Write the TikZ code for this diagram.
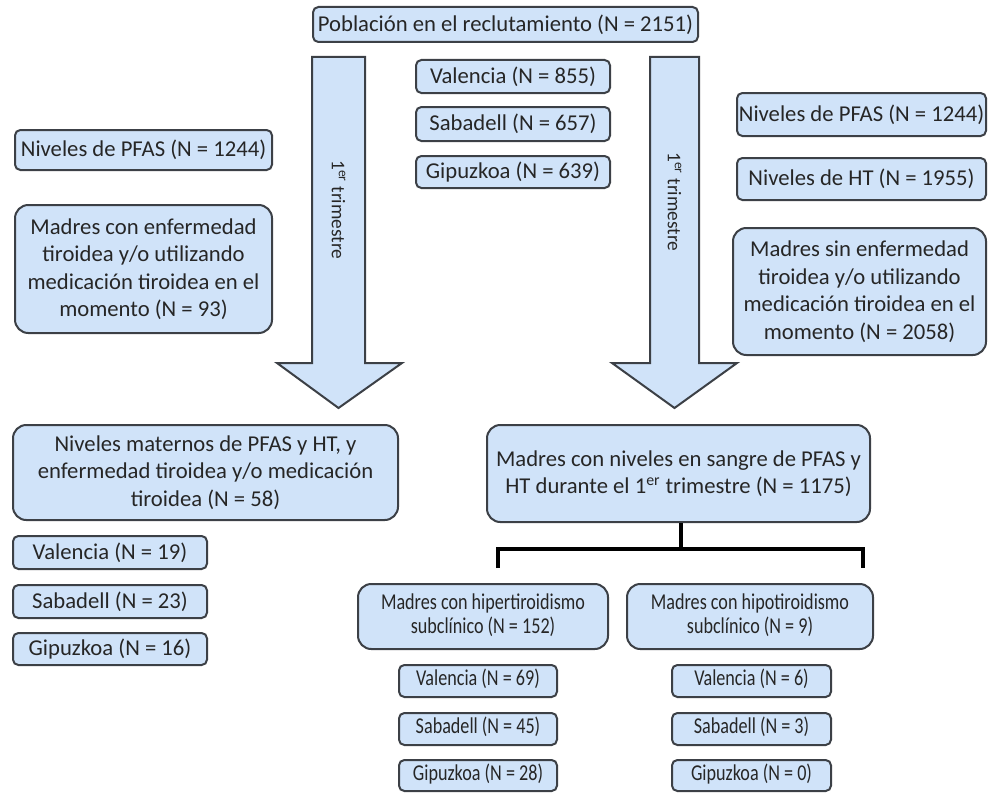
\documentclass[tikz,border=0pt]{standalone}
\usepackage{graphicx}
\usepackage{fontspec}
\setmainfont{Carlito}
\definecolor{boxfill}{RGB}{208,227,249}
\definecolor{boxline}{RGB}{60,64,70}
\newcommand{\nar}[1]{\scalebox{0.8}[1]{\renewcommand{\arraystretch}{0.88}\begin{tabular}{@{}c@{}}#1\end{tabular}}}
\tikzset{
  x=0.75pt, y=-0.75pt,
  base/.style={draw=boxline, fill=boxfill, line width=1.5pt, inner sep=0pt, align=center,
    font=\fontsize{17}{20.6}\selectfont, text=black!85},
  sbox/.style={base, rounded corners=4pt},
  bbox/.style={base, rounded corners=10pt},
  blockarrow/.style={draw=boxline, fill=boxfill, line width=1.5pt, line join=miter},
  arrowtext/.style={rotate=-90, anchor=west, inner sep=0pt, font=\fontsize{14.5}{16}\selectfont, text=black!85},
  bracket/.style={draw=black, line width=3pt},
}
\newcommand{\bx}[7]{\node[#1, minimum width={(#5-#3)*0.75pt}, minimum height={(#6-#4)*0.75pt}] (#2) at ({(#3+#5)/2},{(#4+#6)/2}) {#7};}
\begin{document}
\begin{tikzpicture}
\useasboundingbox (0,0) rectangle (988,792);
% block arrows
\path[blockarrow] (312,57) -- (365,57) -- (365,363) -- (402,363) -- (338.5,408) -- (277,363) -- (312,363) -- cycle;
\path[blockarrow] (650,57) -- (699,57) -- (699,363) -- (737,363) -- (674.5,408) -- (612,363) -- (650,363) -- cycle;
\node[arrowtext] (tl) at (338.5,160) {1\textsuperscript{er} trimestre};
\node[arrowtext] (tr) at (674.5,152) {1\textsuperscript{er} trimestre};
% top
\bx{sbox}{top}{313}{7}{698}{42}{Población en el reclutamiento (N = 2151)}
\bx{sbox}{val}{416}{60}{610}{93}{Valencia (N = 855)}
\bx{sbox}{sab}{416}{107}{610}{141}{Sabadell (N = 657)}
\bx{sbox}{gip}{416}{156}{610}{188}{Gipuzkoa (N = 639)}
% left exclusions
\bx{sbox}{lpfas}{15}{130}{272}{170}{Niveles de PFAS (N = 1244)}
\bx{bbox}{lmad}{15}{205}{272}{333}{Madres con enfermedad\\tiroidea y/o utilizando\\medicación tiroidea en el\\momento (N = 93)}
% right
\bx{sbox}{rpfas}{737}{93}{986}{136}{Niveles de PFAS (N = 1244)}
\bx{sbox}{rht}{737}{158}{986}{200}{Niveles de HT (N = 1955)}
\bx{bbox}{rmad}{733}{228}{986}{355}{Madres sin enfermedad\\tiroidea y/o utilizando\\medicación tiroidea en el\\momento (N = 2058)}
% bottom left
\bx{bbox}{blbig}{13}{425}{398}{520}{Niveles maternos de PFAS y HT, y\\enfermedad tiroidea y/o medicación\\tiroidea (N = 58)}
\bx{sbox}{bval}{13}{536}{207}{569}{Valencia (N = 19)}
\bx{sbox}{bsab}{13}{585}{207}{618}{Sabadell (N = 23)}
\bx{sbox}{bgip}{13}{633}{207}{665}{Gipuzkoa (N = 16)}
% middle
\bx{bbox}{mid}{487}{425}{870}{522}{\fontsize{17}{22.5}\selectfont Madres con niveles en sangre de PFAS y\\HT durante el 1\textsuperscript{er} trimestre (N = 1175)}
% bracket
\coordinate (j) at (681,549);
\coordinate (jl) at (498,549);
\coordinate (jr) at (863,549);
\coordinate (ll) at (498,568);
\coordinate (lr) at (863,568);
\draw[bracket] (mid.south -| j) -- (j);
\draw[bracket, line join=miter] (ll) -- (jl) -- (jr) -- (lr);
% sub groups
\bx{bbox}{hiper}{358}{584}{608}{649}{\nar{Madres con hipertiroidismo\\subclínico (N = 152)}}
\bx{bbox}{hipo}{627}{584}{873}{649}{\nar{Madres con hipotiroidismo\\subclínico (N = 9)}}
\bx{sbox}{hval}{399}{665}{557}{697}{\nar{Valencia (N = 69)}}
\bx{sbox}{hsab}{399}{713}{557}{745}{\nar{Sabadell (N = 45)}}
\bx{sbox}{hgip}{399}{760}{557}{791}{\nar{Gipuzkoa (N = 28)}}
\bx{sbox}{oval}{672}{665}{831}{697}{\nar{Valencia (N = 6)}}
\bx{sbox}{osab}{672}{713}{831}{745}{\nar{Sabadell (N = 3)}}
\bx{sbox}{ogip}{672}{760}{831}{791}{\nar{Gipuzkoa (N = 0)}}
\end{tikzpicture}
\end{document}
